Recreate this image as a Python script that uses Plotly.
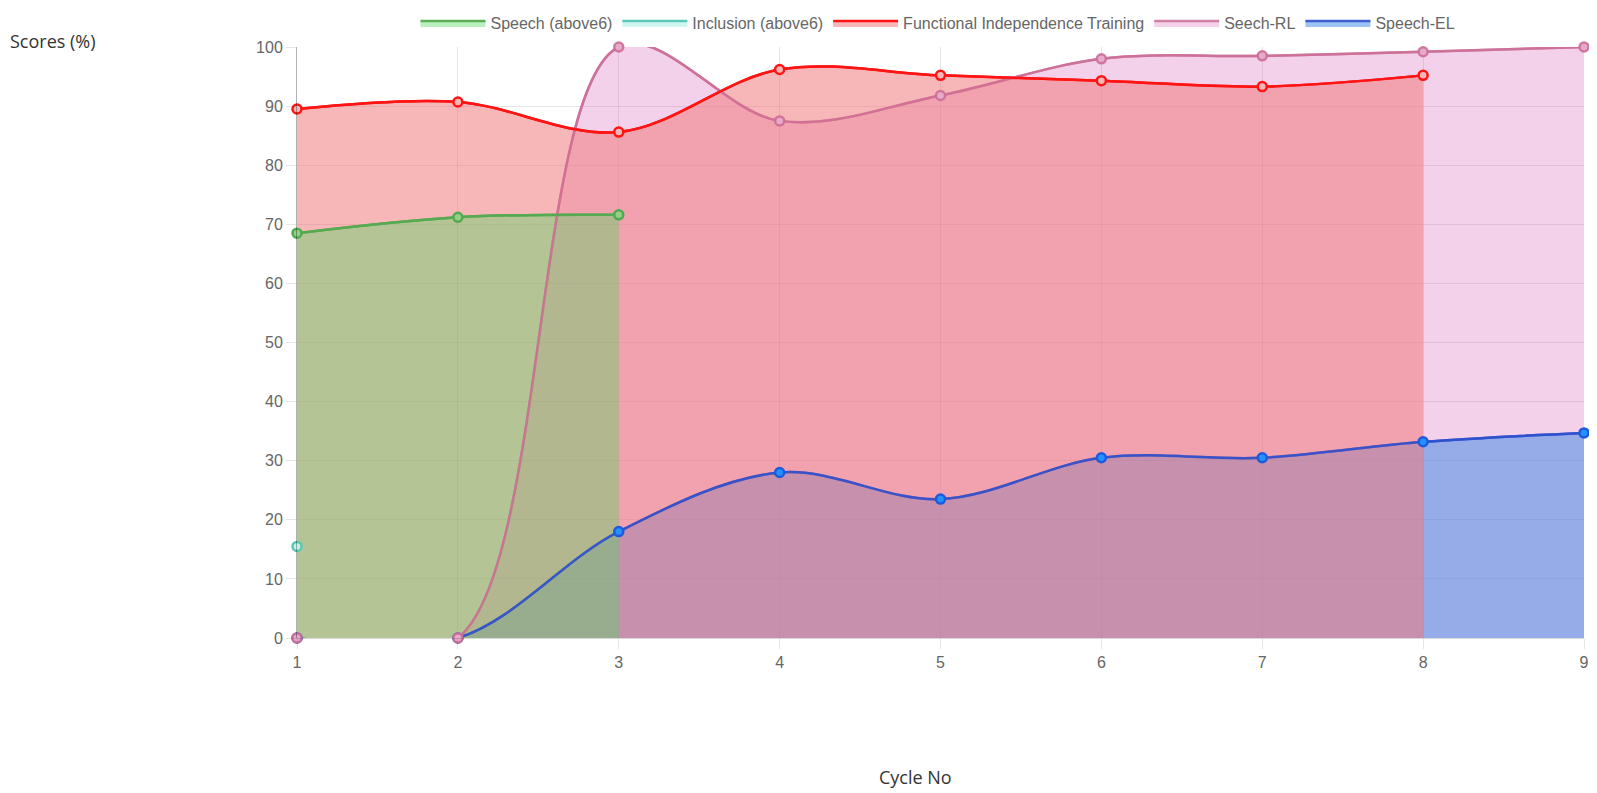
import plotly.graph_objects as go

# ---- data ----
cycles = [1, 2, 3, 4, 5, 6, 7, 8, 9]
speech_above6 = [68.5, 71.2, 71.6]
inclusion_above6 = [15.5]
fit = [89.5, 90.7, 85.6, 96.2, 95.2, 94.3, 93.3, 95.2]
seech_rl = [0, 0, 100, 87.5, 91.8, 98.0, 98.5, 99.2, 100]
speech_el = [0, 0, 18.0, 28.0, 23.5, 30.5, 30.5, 33.2, 34.7]
y_ticks = [0, 10, 20, 30, 40, 50, 60, 70, 80, 90, 100]

series = {
    "Speech (above6)": dict(y=speech_above6, rank=1,
                            fill="rgba(82,215,95,0.40)", line="rgba(85,170,80,0.95)",
                            mfill="rgba(150,205,135,1)", mline="rgb(80,170,80)"),
    "Inclusion (above6)": dict(y=inclusion_above6, rank=2,
                               fill="rgba(120,230,215,0.35)", line="rgb(90,200,180)",
                               mfill="rgb(200,240,232)", mline="rgb(90,200,180)"),
    "Functional Independence Training": dict(y=fit, rank=3,
                                             fill="rgba(240,122,125,0.54)", line="rgb(255,20,20)",
                                             mfill="rgb(247,183,183)", mline="rgb(255,20,20)"),
    "Seech-RL": dict(y=seech_rl, rank=4,
                     fill="rgba(215,102,185,0.30)", line="rgba(205,110,150,0.85)",
                     mfill="rgb(230,170,205)", mline="rgba(205,110,150,0.9)"),
    "Speech-EL": dict(y=speech_el, rank=5,
                      fill="rgba(57,135,230,0.50)", line="rgba(45,80,205,0.9)",
                      mfill="rgb(35,145,255)", mline="rgb(30,90,220)"),
}

fill_order = ["Seech-RL", "Speech-EL", "Functional Independence Training",
              "Inclusion (above6)", "Speech (above6)"]
line_order = ["Speech-EL", "Seech-RL", "Functional Independence Training",
              "Inclusion (above6)", "Speech (above6)"]

fig = go.Figure()
for name in fill_order:
    s = series[name]
    fig.add_trace(go.Scatter(
        x=cycles[:len(s["y"])], y=s["y"], name=name, mode="lines",
        fill="tozeroy", fillcolor=s["fill"],
        line=dict(color=s["line"], width=2.5, shape="spline", smoothing=1.0),
        legendrank=s["rank"], hoverinfo="skip"))
for name in line_order:
    s = series[name]
    fig.add_trace(go.Scatter(
        x=cycles[:len(s["y"])], y=s["y"], name=name, mode="lines+markers",
        showlegend=False, cliponaxis=False,
        line=dict(color=s["line"], width=2.5, shape="spline", smoothing=1.0),
        marker=dict(size=9, color=s["mfill"], line=dict(color=s["mline"], width=2.5))))

W, H = 1597, 793
L, R, T, B = 289, 21, 39, 163
pw, ph = W - L - R, H - T - B

fig.update_layout(
    width=W, height=H,
    margin=dict(l=L, r=R, t=T, b=B, pad=0, autoexpand=False),
    paper_bgcolor="white", plot_bgcolor="white",
    font=dict(family="Liberation Sans, Arial, sans-serif", size=16, color="#666"),
    showlegend=True,
    legend=dict(orientation="h", xref="container", yref="container",
                x=930 / W, xanchor="center", y=1 - 15 / H, yanchor="middle",
                font=dict(size=16, color="#666"), itemwidth=65,
                bgcolor="rgba(0,0,0,0)", traceorder="normal"),
    xaxis=dict(range=[1, 9], tickvals=cycles, ticktext=[str(c) for c in cycles],
               showgrid=True, gridcolor="rgba(0,0,0,0.1)", gridwidth=1,
               ticks="outside", ticklen=10, tickcolor="rgba(0,0,0,0.1)",
               showline=True, linecolor="rgba(0,0,0,0.15)", linewidth=1,
               zeroline=False, fixedrange=True, automargin=False,
               ticklabeloverflow="allow",
               tickfont=dict(size=16, color="#666")),
    yaxis=dict(range=[0, 100], tickvals=y_ticks,
               showgrid=True, gridcolor="rgba(0,0,0,0.1)", gridwidth=1,
               ticks="outside", ticklen=10, tickcolor="rgba(0,0,0,0.1)",
               showline=True, linecolor="rgba(0,0,0,0.3)", linewidth=1,
               zeroline=False, fixedrange=True, automargin=False,
               tickfont=dict(size=16, color="#666")),
    annotations=[
        dict(text="Scores (%)", xref="paper", yref="paper",
             x=(0 - L) / pw, xanchor="left", y=(H - B - 33) / ph, yanchor="middle",
             showarrow=False, font=dict(family="Open Sans, sans-serif", size=18, color="#333")),
        dict(text="Cycle No", xref="paper", yref="paper",
             x=(907 - L) / pw, xanchor="center", y=(H - B - 769) / ph, yanchor="middle",
             showarrow=False, font=dict(family="Open Sans, sans-serif", size=18, color="#333")),
    ],
)

fig.write_html("out.html")
